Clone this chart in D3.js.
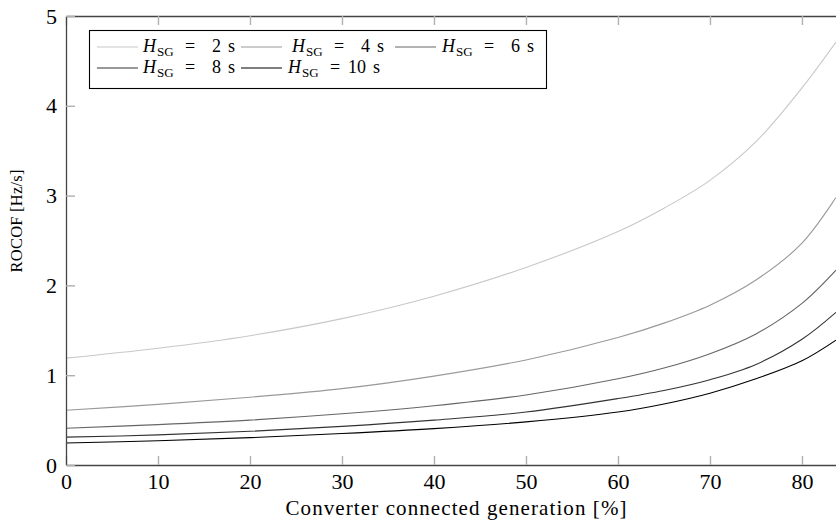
<!DOCTYPE html>
<html>
<head>
<meta charset="utf-8">
<script src="https://cdn.jsdelivr.net/npm/d3@7"></script>
<style>
body { margin: 0; background: #fff; }
</style>
</head>
<body>
<svg width="836" height="527"></svg>
<script>
// converter connected generation [%]
var shares = [0, 10, 20, 30, 40, 50, 60, 65, 70, 75, 80, 83.7];
// ROCOF [Hz/s] for each synchronous inertia constant
var rocofH2  = [1.19, 1.30, 1.44, 1.63, 1.88, 2.20, 2.60, 2.86, 3.17, 3.60, 4.20, 4.71];
var rocofH4  = [0.61, 0.675, 0.755, 0.85, 0.99, 1.17, 1.42, 1.58, 1.78, 2.06, 2.47, 2.98];
var rocofH6  = [0.41, 0.45, 0.50, 0.57, 0.66, 0.78, 0.96, 1.08, 1.24, 1.46, 1.80, 2.17];
var rocofH8  = [0.31, 0.335, 0.375, 0.43, 0.50, 0.59, 0.74, 0.83, 0.95, 1.12, 1.40, 1.70];
var rocofH10 = [0.245, 0.27, 0.305, 0.35, 0.405, 0.48, 0.59, 0.68, 0.80, 0.96, 1.16, 1.39];
var inertiaLabels = ["2", "4", "6", "8", "10"];
var xTicks = [0, 10, 20, 30, 40, 50, 60, 70, 80];
var yTicks = [0, 1, 2, 3, 4, 5];

var allSeries = [rocofH2, rocofH4, rocofH6, rocofH8, rocofH10];
var lineColors = ["#c8c8c8", "#999999", "#666666", "#333333", "#000000"];
var serif = "'Liberation Serif', serif";

var svg = d3.select("svg");

var x = d3.scaleLinear().domain([0, 83.7]).range([66, 836]);
var y = d3.scaleLinear().domain([0, 5]).range([465, 16]);

svg.append("defs").append("clipPath").attr("id", "plotclip")
	.append("rect")
	.attr("x", 66).attr("y", 16)
	.attr("width", 770).attr("height", 449);

// curves
var line = d3.line()
	.x(function (d) { return x(d[0]); })
	.y(function (d) { return y(d[1]); })
	.curve(d3.curveCatmullRom.alpha(0.5));

svg.append("g").attr("clip-path", "url(#plotclip)")
	.selectAll("path")
	.data(allSeries)
	.enter().append("path")
	.attr("fill", "none")
	.attr("stroke", function (d, i) { return lineColors[i]; })
	.attr("stroke-width", 1.1)
	.attr("d", function (d) {
		return line(d.map(function (v, i) { return [shares[i], v]; }));
	});

// axes
var xAxis = svg.append("g")
	.attr("transform", "translate(0,465)")
	.call(d3.axisBottom(x).tickValues(xTicks).tickSizeInner(-9).tickSizeOuter(0).tickPadding(8));

var xTop = svg.append("g")
	.attr("transform", "translate(0,16)")
	.call(d3.axisTop(x).tickValues(xTicks).tickSizeInner(-9).tickSizeOuter(0).tickFormat(""));

var yAxis = svg.append("g")
	.attr("transform", "translate(66,0)")
	.call(d3.axisLeft(y).tickValues(yTicks).tickFormat(d3.format("d")).tickSizeInner(-9).tickSizeOuter(0).tickPadding(9));

[xAxis, xTop, yAxis].forEach(function (g) {
	g.select(".domain").attr("stroke", "#444").attr("stroke-width", 1.3);
	g.selectAll(".tick line").attr("stroke", "#b0b0b0").attr("stroke-width", 1.4);
	g.selectAll(".tick text")
		.style("font-family", serif)
		.style("font-size", "22px")
		.attr("fill", "#000");
});
xTop.selectAll(".tick text").remove();

// axis titles
svg.append("text")
	.attr("x", 456).attr("y", 515)
	.attr("text-anchor", "middle")
	.attr("textLength", 341)
	.style("font-family", serif)
	.style("font-size", "21px")
	.text("Converter connected generation [%]");

svg.append("text")
	.attr("transform", "translate(22,221) rotate(-90)")
	.attr("text-anchor", "middle")
	.attr("textLength", 103)
	.style("font-family", serif)
	.style("font-size", "16.5px")
	.text("ROCOF [Hz/s]");

// legend: [sample line start, text start, row baseline]
var legendPos = [[97, 143, 47], [241, 292, 47], [395, 442, 47], [97, 143, 68], [241, 288, 68]];

svg.append("rect")
	.attr("x", 89.5).attr("y", 30.5)
	.attr("width", 457).attr("height", 58)
	.attr("fill", "#fff")
	.attr("stroke", "#000")
	.attr("stroke-width", 1.1);

var items = svg.append("g").selectAll("g")
	.data(inertiaLabels)
	.enter().append("g");

items.append("line")
	.attr("x1", function (d, i) { return legendPos[i][0]; })
	.attr("x2", function (d, i) { return legendPos[i][0] + 41; })
	.attr("y1", function (d, i) { return legendPos[i][2]; })
	.attr("y2", function (d, i) { return legendPos[i][2]; })
	.attr("stroke", function (d, i) { return lineColors[i]; })
	.attr("stroke-width", 1.1);

var label = items.append("text")
	.attr("transform", function (d, i) { return "translate(" + legendPos[i][1] + "," + (legendPos[i][2] + 5) + ")"; })
	.style("font-family", serif)
	.style("font-size", "18px");
label.append("tspan").attr("x", 0).style("font-style", "italic").text("H");
label.append("tspan").attr("x", 14).attr("dy", 4).style("font-size", "13px").text("SG");
label.append("tspan").attr("x", 42).attr("dy", -4).text("=");
items.append("text")
	.attr("transform", function (d, i) { return "translate(" + (legendPos[i][1] + 78) + "," + (legendPos[i][2] + 5) + ")"; })
	.attr("text-anchor", "end")
	.style("font-family", serif)
	.style("font-size", "18px")
	.text(function (d) { return d; });
items.append("text")
	.attr("transform", function (d, i) { return "translate(" + (legendPos[i][1] + 85) + "," + (legendPos[i][2] + 5) + ")"; })
	.style("font-family", serif)
	.style("font-size", "18px")
	.text("s");
</script>
</body>
</html>
